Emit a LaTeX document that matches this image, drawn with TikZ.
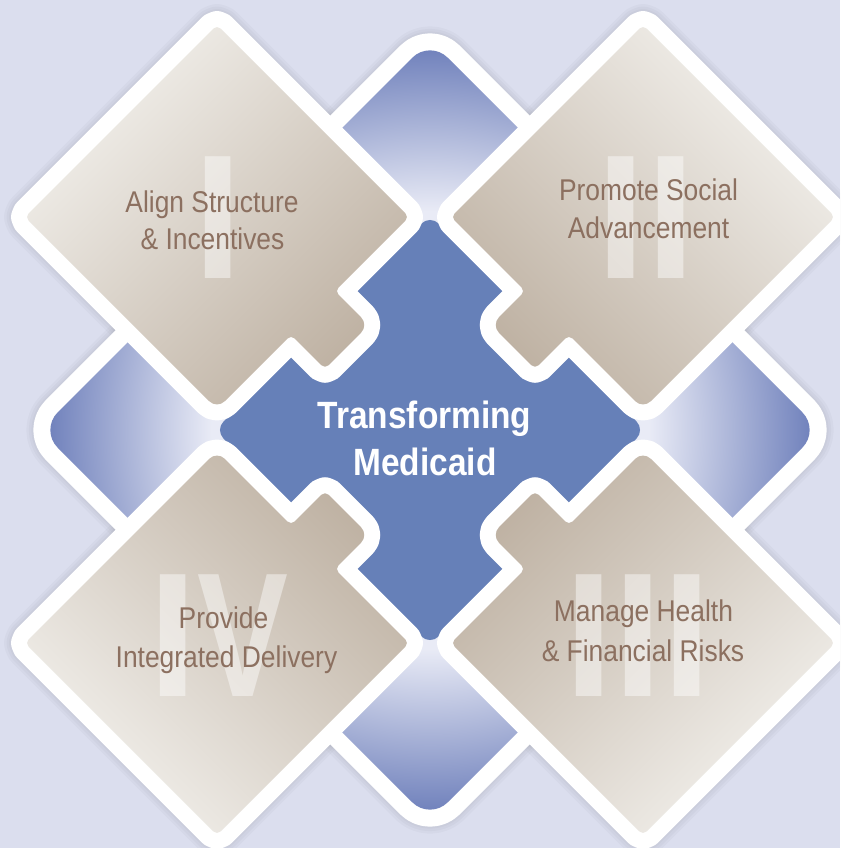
\documentclass[tikz,border=0pt]{standalone}
\usepackage{fontspec}
\usepackage{graphicx}
\newfontfamily\labelfont[FakeStretch=0.88]{Liberation Sans}
\newfontfamily\numeralfont{Liberation Sans}

\definecolor{pagebg}{RGB}{219,222,238}
\definecolor{hubblue}{RGB}{102,128,184}
\definecolor{rimdark}{RGB}{106,124,185}
\definecolor{rimlight}{RGB}{233,235,246}
\definecolor{tilehi}{RGB}{243,241,237}
\definecolor{tilelo}{RGB}{190,177,162}
\definecolor{labelbrown}{RGB}{140,112,96}

% glow of the outer frame: dark at the tips, pale towards the hub
\pgfdeclareradialshading{rimglow}{\pgfpoint{0bp}{0bp}}{%
  color(0bp)=(rimlight); color(14bp)=(rimlight);
  color(25bp)=(rimdark); color(50bp)=(rimdark)}

% outline of one puzzle tile, its tab pointing to the hub
\newcommand\tileoutline[1]{(#1-1) [rounded corners=5pt] -- (#1-2) -- (#1-3)
  [rounded corners=11pt] -- (#1-4) [rounded corners=5pt] -- (#1-5) -- (#1-6)
  [rounded corners=11pt] -- (#1-7) [rounded corners=5pt] -- (#1-8) -- cycle}

\begin{document}
\begin{tikzpicture}[x=1pt,y=-1pt,
  haze/.style={draw=black, draw opacity=0.025, line join=round},
  tilerim/.style={draw=white, line width=32pt, line join=round},
  tilelabel/.style={font=\labelfont\fontsize{30}{36}\selectfont,
    text=labelbrown, anchor=base, inner sep=0pt},
  hubtitle/.style={font=\labelfont\bfseries\fontsize{38}{46}\selectfont,
    text=white, anchor=base, inner sep=0pt},
  numeral/.style={font=\numeralfont\bfseries\fontsize{177}{177}\selectfont,
    text=white, text opacity=0.45, anchor=base, inner sep=0pt}]

\useasboundingbox (0,0) rectangle (840,848);
\clip (0,0) rectangle (840,848);
\fill[pagebg] (0,0) rectangle (840,848);

% corner points of the four tiles (I top left, II top right, III bottom right, IV bottom left)
\foreach \sx/\sy/\tid in {1/1/I, -1/1/II, -1/-1/III, 1/-1/IV}{
  \coordinate (\tid-1) at ({430-213*(\sx)},{430-405*(\sy)});
  \coordinate (\tid-2) at ({430-21*(\sx)},{430-213*(\sy)});
  \coordinate (\tid-3) at ({430-95.1*(\sx)},{430-138.9*(\sy)});
  \coordinate (\tid-4) at ({430-61.2*(\sx)},{430-105*(\sy)});
  \coordinate (\tid-5) at ({430-105*(\sx)},{430-61.2*(\sy)});
  \coordinate (\tid-6) at ({430-138.9*(\sx)},{430-95.1*(\sy)});
  \coordinate (\tid-7) at ({430-213*(\sx)},{430-21*(\sy)});
  \coordinate (\tid-8) at ({430-405*(\sx)},{430-213*(\sy)});
}

% soft shadows
\foreach \w in {38,43,48}{
  \path[haze, line width=\w pt, rounded corners=25pt]
    (430,40) -- (820,430) -- (430,820) -- (40,430) -- cycle;
}
\foreach \tid in {I,II,III,IV}{
  \foreach \w in {36,41,46}{
    \path[haze, line width=\w pt] \tileoutline{\tid};
  }
}

% outer frame whose four tips show between the tiles
\path[draw=white, line width=34pt, line join=round, rounded corners=25pt]
  (430,40) -- (820,430) -- (430,820) -- (40,430) -- cycle;
\path[shade, shading=rimglow, rounded corners=25pt]
  (430,40) -- (820,430) -- (430,820) -- (40,430) -- cycle;

% hub
\path[fill=hubblue, rounded corners=12pt]
  (430,215) -- (645,430) -- (430,645) -- (215,430) -- cycle;

% tiles: white rim, then the beige face
\foreach \tid in {I,II,III,IV}{
  \path[tilerim] \tileoutline{\tid};
}
\foreach \tid/\ang in {I/45, II/-45, III/-135, IV/135}{
  \path[shade, top color=tilehi, bottom color=tilelo, shading angle=\ang]
    \tileoutline{\tid};
}

% roman numerals
\node[numeral] (numI)   at (218,278) {I};
\node[numeral] (numII)  at (646,278) {II};
\node[numeral] (numIII) at (638,696) {III};
\node[numeral] (numIV)  at (218.4,696) {I\scalebox{0.77}[1]{V}};

% tile labels
\node[tilelabel] (alignA) at (212,212) {Align Structure};
\node[tilelabel] (alignB) at (212.5,249) {\& Incentives};
\node[tilelabel] (socialA) at (648.5,200) {Promote Social};
\node[tilelabel] (socialB) at (648.5,238) {Advancement};
\node[tilelabel] (riskA) at (643.5,621) {Manage Health};
\node[tilelabel] (riskB) at (643,661) {\& Financial Risks};
\node[tilelabel] (deliveryA) at (223.5,628) {Provide};
\node[tilelabel] (deliveryB) at (226.5,667) {Integrated Delivery};

% hub title
\node[hubtitle] (hubA) at (424.5,428) {Transforming};
\node[hubtitle] (hubB) at (425,475) {Medicaid};
\end{tikzpicture}
\end{document}
